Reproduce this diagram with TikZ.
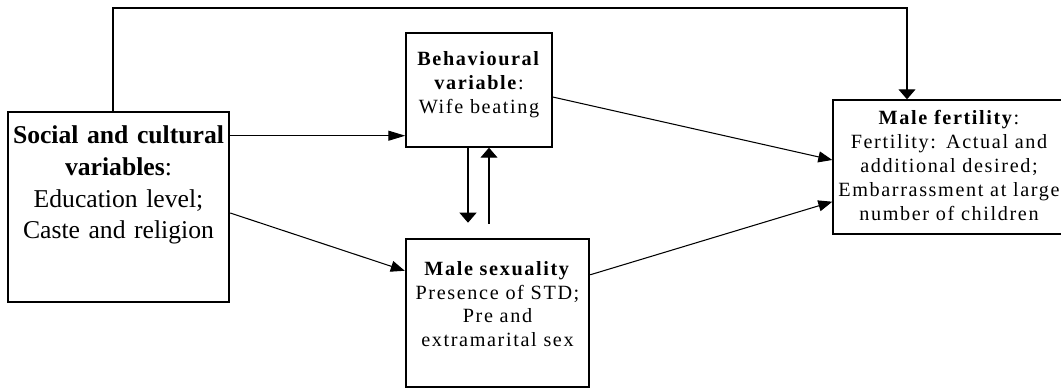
\documentclass[tikz,border=0pt]{standalone}
\usepackage{fontspec}
\setmainfont{Liberation Serif}
\newfontfamily\trackfont[LetterSpace=8]{Liberation Serif}
\usetikzlibrary{arrows.meta, positioning, calc}

\begin{document}
\begin{tikzpicture}[
    thickbox/.style={draw, line width=1.4pt, inner sep=0pt},
    thinbox/.style={draw, line width=0.8pt, inner sep=0pt},
    boxtext/.style={align=center, inner sep=0pt, text width=#1,
                    font=\fontsize{11.5}{13.6}\selectfont\trackfont},
    bigtext/.style={align=center, inner sep=0pt, text width=4.3cm,
                    font=\fontsize{14.6}{18}\selectfont},
    link/.style={line width=0.6pt},
    arrh/.style={link, -{Triangle[length=0.34cm, width=0.2cm]}},
    arrv/.style={link, -{Triangle[length=0.2cm, width=0.34cm]}},
    arrs/.style={link, -{Triangle[length=0.28cm, width=0.22cm]}},
  ]
  \useasboundingbox (0,0) rectangle (21.22,-7.76);

  % boxes
  \node[thickbox, minimum width=4.42cm, minimum height=3.8cm] (soc)
      at (2.37,-4.14) {};
  \node[thinbox, minimum width=2.92cm, minimum height=2.28cm] (behav)
      at (9.58,-1.80) {};
  \node[thickbox, minimum width=3.66cm, minimum height=2.96cm] (sex)
      at (9.95,-6.26) {};
  \node[thinbox, minimum width=4.64cm, minimum height=2.68cm] (fert)
      at (18.98,-3.34) {};

  % box texts
  \node[bigtext, below=0.3cm of soc.north]
      {\textbf{Social and cultural}\\\textbf{variables}:\\
       Education level;\\Caste and religion};
  \node[boxtext=2.9cm, below=0.38cm of behav.north]
      {\textbf{Behavioural}\\\textbf{variable}:\\Wife beating};
  \node[boxtext=3.6cm, below=0.46cm of sex.north]
      {\textbf{Male sexuality}\\Presence of STD;\\Pre and\\extramarital sex};
  \node[boxtext=4.6cm, below=0.22cm of fert.north]
      {\textbf{Male fertility}:\\Fertility: Actual and\\additional desired;\\
       Embarrassment at large\\number of children};

  % connectors
  \coordinate (top) at (0,-0.16);
  \draw[arrv] ([xshift=-0.11cm]soc.north)
      -- ([xshift=-0.11cm]soc.north |- top)
      -| ([xshift=-0.84cm]fert.north);
  \draw[arrh] ([yshift=0.24cm]behav.south west -| soc.east)
      -- ([yshift=0.24cm]behav.south west);
  \draw[arrs] ([yshift=-0.12cm]soc.east) -- ([yshift=-0.66cm]sex.north west);
  \draw[arrs] ([yshift=-0.14cm]behav.east) -- ([yshift=0.14cm]fert.west);
  \draw[arrs] ([yshift=-0.74cm]sex.north east) -- ([yshift=0.66cm]fert.south west);

  % two-way link between behaviour and sexuality
  \coordinate (dn) at ([xshift=-0.22cm, yshift=-1.5cm]behav.south);
  \coordinate (up) at ([xshift=0.2cm, yshift=-1.52cm]behav.south);
  \draw[arrv] (behav.south -| dn) -- (dn);
  \draw[arrv] (up) -- (behav.south -| up);
\end{tikzpicture}
\end{document}
